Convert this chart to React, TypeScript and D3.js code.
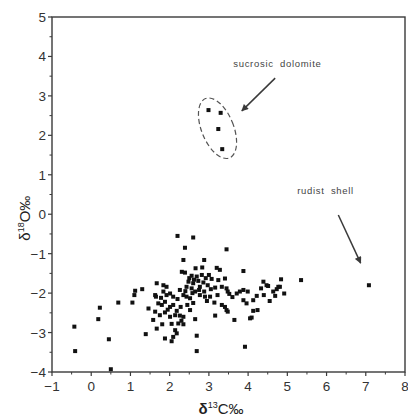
import React from "react";
import * as d3 from "d3";

const W = 408;
const H = 420;

// δ13C (x) and δ18O (y) values
const mainX = [
  2.20, 2.60, 2.39, 2.35, 3.45, 2.88, 2.31, 2.39, 2.66, 2.83, 3.20, 3.28, 2.56, 2.69, 2.82, 3.00,
  3.07, 2.48, 2.60, 2.73, 2.86, 2.97, 3.24, 3.41, 2.43, 2.56, 2.77, 3.16, 3.33, 3.45, 1.67, 1.84,
  1.92, 1.30, 1.12, 1.10, 1.05, 0.69, 0.22, 0.18, -0.43, -0.41, 0.45, 0.50, 1.39, 1.46, 1.63, 1.65,
  1.84, 1.92, 2.01, 2.09, 2.26, 2.35, 2.43, 2.52, 2.65, 2.77, 2.90, 3.03, 3.14, 3.33, 3.41, 1.71,
  1.80, 1.88, 2.01, 2.09, 1.63, 1.75, 1.88, 2.01, 2.14, 2.26, 2.35, 1.58, 1.81, 1.67, 2.22, 2.35,
  2.52, 2.65, 2.14, 2.18, 2.09, 2.05, 1.88, 2.69, 2.69, 3.16, 3.45, 3.88, 3.48, 3.48, 3.65, 3.71,
  3.79, 3.88, 3.99, 3.88, 3.96, 4.13, 4.22, 4.13, 4.24, 4.05, 4.09, 4.33, 4.39, 4.47, 4.51, 4.64,
  4.69, 4.73, 4.77, 4.84, 4.81, 4.92, 5.35, 3.92,
  2.50, 2.62, 2.92, 2.75, 2.88, 3.05, 2.58, 2.40, 2.20, 2.28, 2.45, 1.95, 2.18, 2.60, 2.95, 3.22,
  1.78, 2.05, 2.30, 3.52, 3.60, 4.40, 4.55,
];
const mainY = [
  -0.55, -0.59, -0.85, -1.16, -0.89, -1.16, -1.46, -1.48, -1.37, -1.35, -1.36, -1.41, -1.56, -1.58, -1.54, -1.54,
  -1.64, -1.71, -1.75, -1.69, -1.73, -1.80, -1.67, -1.63, -1.84, -1.88, -1.84, -1.86, -1.84, -1.88, -1.75, -1.80,
  -1.84, -1.90, -1.94, -2.05, -2.24, -2.24, -2.37, -2.66, -2.85, -3.47, -3.17, -3.93, -3.04, -2.39, -2.05, -2.09,
  -1.96, -2.05, -2.01, -2.09, -1.92, -2.05, -2.09, -2.13, -1.96, -2.05, -2.09, -2.09, -2.24, -2.30, -2.35, -2.26,
  -2.30, -2.22, -2.35, -2.30, -2.47, -2.56, -2.49, -2.60, -2.56, -2.57, -2.60, -2.68, -2.79, -2.90, -2.77, -2.79,
  -2.43, -2.66, -2.94, -3.02, -3.11, -3.22, -3.15, -3.08, -3.47, -2.57, -2.43, -1.44, -1.96, -2.47, -2.68, -2.01,
  -1.96, -1.92, -1.96, -2.18, -2.26, -2.18, -2.07, -2.45, -2.43, -2.64, -2.62, -1.88, -1.71, -1.80, -1.82, -1.96,
  -2.07, -1.90, -1.84, -1.65, -1.84, -2.01, -1.67, -3.36,
  -1.62, -1.66, -1.62, -1.92, -1.96, -1.90, -2.00, -1.95, -2.15, -2.35, -2.30, -2.42, -2.45, -2.25, -2.20, -2.05,
  -2.12, -2.78, -2.70, -2.02, -2.10, -2.05, -2.20,
];
const dolomiteX = [2.99, 3.30, 3.24, 3.34];
const dolomiteY = [2.64, 2.57, 2.16, 1.65];
const rudistX = [7.08];
const rudistY = [-1.8];

const xTicks = [-1, 0, 1, 2, 3, 4, 5, 6, 7, 8];
const yTicks = [-4, -3, -2, -1, 0, 1, 2, 3, 4, 5];

export default function App() {
  const left = 52, right = 405, top = 17, bottom = 372;
  const x = d3.scaleLinear().domain([-1, 8]).range([left, right]);
  const y = d3.scaleLinear().domain([-4, 5]).range([bottom, top]);
  const ink = "#3a3a3a";
  const fmt = d3.format("");
  const xMinor = d3.range(-1, 8.01, 0.5).filter((v) => !Number.isInteger(v));
  const yMinor = d3.range(-4, 5.01, 0.5).filter((v) => !Number.isInteger(v));

  const pts: [number, number][] = [];
  mainX.forEach((v, i) => pts.push([v, mainY[i]]));
  dolomiteX.forEach((v, i) => pts.push([v, dolomiteY[i]]));
  rudistX.forEach((v, i) => pts.push([v, rudistY[i]]));

  const s = 4;
  const font = "'Liberation Sans', Arial, sans-serif";

  // annotation geometry in data units
  const ellC = [3.22, 2.18];
  const arr1 = [[4.69, 3.45], [3.84, 2.62]];
  const arr2 = [[6.3, -0.02], [6.87, -1.24]];

  return (
    <svg width={W} height={H} style={{ position: "absolute", left: 0, top: 0, background: "#fff" }}>
      <defs>
        <marker id="ah" viewBox="0 0 10 10" refX="9" refY="5" markerWidth="9" markerHeight="7" markerUnits="userSpaceOnUse" orient="auto">
          <path d="M0,0 L10,5 L0,10 z" fill={ink} />
        </marker>
      </defs>
      {/* frame */}
      <rect x={left} y={top} width={right - left} height={bottom - top} fill="none" stroke={ink} strokeWidth={1.4} />
      {/* x ticks */}
      {xTicks.map((t) => (
        <g key={"xt" + t}>
          <line x1={x(t)} x2={x(t)} y1={bottom} y2={bottom + 4} stroke={ink} strokeWidth={1.2} />
          <text x={x(t)} y={bottom + 19} textAnchor="middle" fontFamily={font} fontSize={13.5} fill="#333">
            {fmt(t).replace("-", "\u2212")}
          </text>
        </g>
      ))}
      {xMinor.map((t) => (
        <line key={"xm" + t} x1={x(t)} x2={x(t)} y1={bottom} y2={bottom + 2.5} stroke={ink} strokeWidth={1} />
      ))}
      {/* y ticks */}
      {yTicks.map((t) => (
        <g key={"yt" + t}>
          <line x1={left - 4} x2={left} y1={y(t)} y2={y(t)} stroke={ink} strokeWidth={1.2} />
          <text x={left - 6} y={y(t) + 5} textAnchor="end" fontFamily={font} fontSize={13.5} fill="#333">
            {fmt(t).replace("-", "\u2212")}
          </text>
        </g>
      ))}
      {yMinor.map((t) => (
        <line key={"ym" + t} x1={left - 2.5} x2={left} y1={y(t)} y2={y(t)} stroke={ink} strokeWidth={1} />
      ))}
      {/* axis titles */}
      <text x={221} y={414} textAnchor="middle" fontFamily={font} fontSize={15} fill="#222">
        <tspan fontWeight="bold">δ</tspan>
        <tspan fontSize={9} dy={-6}>13</tspan>
        <tspan dy={6}>C‰</tspan>
      </text>
      <text transform={`translate(30,${y(-0.1)}) rotate(-90)`} textAnchor="middle" fontFamily={font} fontSize={15} fill="#222">
        <tspan>δ</tspan>
        <tspan fontSize={9} dy={-6}>18</tspan>
        <tspan dy={6}>O‰</tspan>
      </text>
      {/* points */}
      {pts.map(([a, b], i) => (
        <rect key={i} x={x(a) - s / 2} y={y(b) - s / 2} width={s} height={s} fill="#111" />
      ))}
      {/* sucrosic dolomite annotation */}
      <ellipse
        cx={x(ellC[0])}
        cy={y(ellC[1])}
        rx={16}
        ry={32}
        transform={`rotate(-22 ${x(ellC[0])} ${y(ellC[1])})`}
        fill="none"
        stroke="#555"
        strokeWidth={1.2}
        strokeDasharray="5 3"
      />
      <line x1={x(arr1[0][0])} y1={y(arr1[0][1])} x2={x(arr1[1][0])} y2={y(arr1[1][1])} stroke={ink} strokeWidth={1.5} markerEnd="url(#ah)" />
      <text x={x(3.62)} y={y(3.73)} fontFamily={font} fontSize={9.5} letterSpacing={0.7} wordSpacing={3} fill="#444">
        sucrosic dolomite
      </text>
      {/* rudist shell annotation */}
      <line x1={x(arr2[0][0])} y1={y(arr2[0][1])} x2={x(arr2[1][0])} y2={y(arr2[1][1])} stroke={ink} strokeWidth={1.5} markerEnd="url(#ah)" />
      <text x={x(5.25)} y={y(0.51)} fontFamily={font} fontSize={9.5} letterSpacing={0.7} wordSpacing={3} fill="#444">
        rudist shell
      </text>
    </svg>
  );
}
